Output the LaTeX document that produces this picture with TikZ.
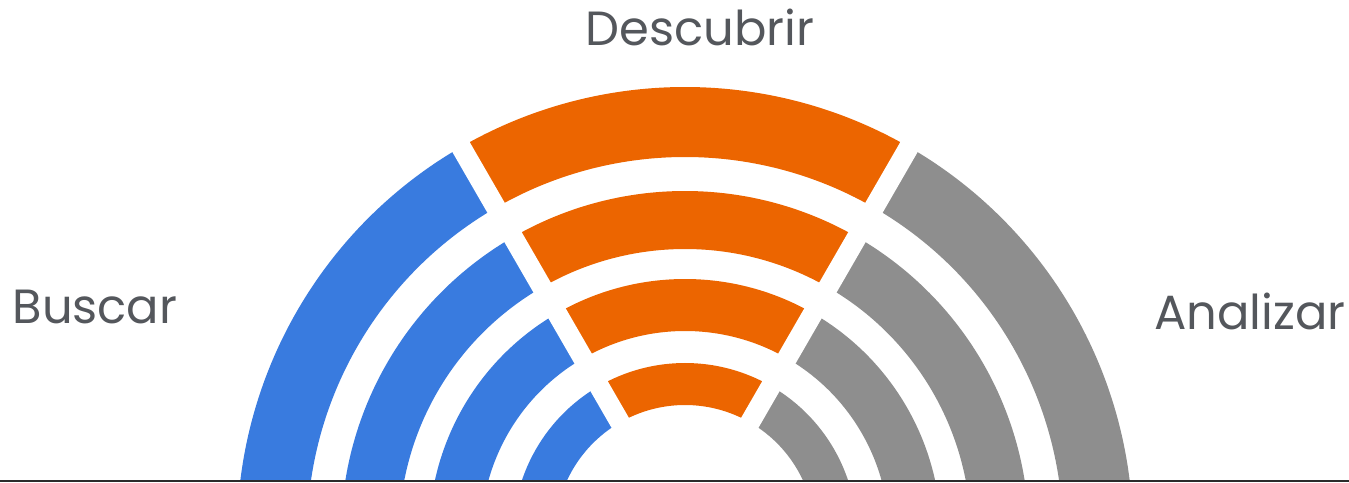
\documentclass[tikz,border=0pt]{standalone}
\usepackage{fontspec}
\usetikzlibrary{calc}
\setmainfont{Poppins}
\definecolor{cblue}{HTML}{397BDF}
\definecolor{corange}{HTML}{EC6500}
\definecolor{cgray}{HTML}{8E8E8E}
\definecolor{ctext}{HTML}{54575C}
\definecolor{cline}{HTML}{2B2B2B}
\tikzset{
  label/.style={text=ctext, font=\fontsize{48}{58}\selectfont, inner sep=0pt, anchor=base},
  band/.style={line cap=butt},
  gapline/.style={white, line width=20pt, line cap=butt},
}
\begin{document}
\begin{tikzpicture}[x=1pt,y=1pt]
\useasboundingbox (0,0) rectangle (1349,482);
\coordinate (C) at (685,-53);
\begin{scope}
  \clip (0,1) rectangle (1349,482);
  % ring, mid radius / width
  \foreach \r/\w in {413/70, 315/58, 230/52, 151/42} {
    \draw[band, cblue, line width=\w pt] (C) ++(120:\r) arc[start angle=120, end angle=185, radius=\r];
    \draw[band, corange, line width=\w pt] (C) ++(60:\r) arc[start angle=60, end angle=120, radius=\r];
    \draw[band, cgray, line width=\w pt] (C) ++(-5:\r) arc[start angle=-5, end angle=60, radius=\r];
  }
  \coordinate (g1) at ($(C)+(60:520)$);
  \coordinate (g2) at ($(C)+(120:520)$);
  \draw[gapline] (C) -- (g1);
  \draw[gapline] (C) -- (g2);
\end{scope}
\coordinate (bl) at (0,1);
\coordinate (br) at (1349,1);
\draw[cline, line width=2pt] (bl) -- (br);
\node[label] (descubrir) at (700,436.5) {Descubrir};
\node[label] (buscar) at (95,158.5) {Buscar};
\node[label] (analizar) at (1250,152) {Analizar};
\end{tikzpicture}
\end{document}
